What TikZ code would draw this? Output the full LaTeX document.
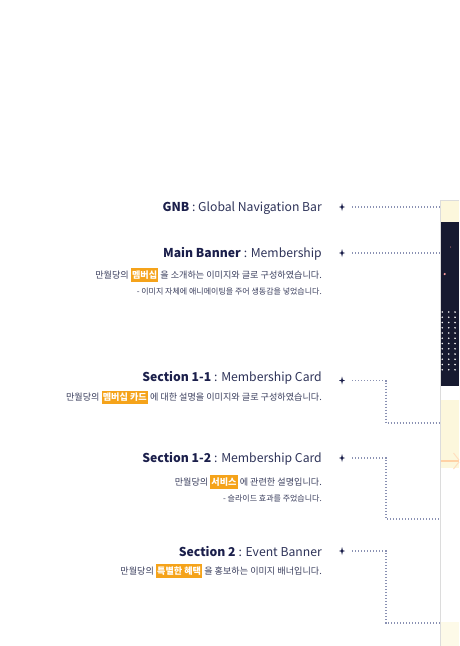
\documentclass[tikz,border=0pt]{standalone}
\usepackage{fontspec}
\setmainfont{Noto Sans CJK KR}
\definecolor{navy}{HTML}{1B1F4B}
\definecolor{navytxt}{HTML}{2E3359}
\definecolor{desc}{HTML}{3B3F5E}
\definecolor{hl}{HTML}{F5A31A}
\definecolor{dotc}{HTML}{8A91B3}
\definecolor{cream}{HTML}{FCF7DC}
\definecolor{creamlt}{HTML}{FDFAE8}
\definecolor{band}{HTML}{171A30}
\definecolor{edge}{HTML}{DCDCDC}
\newcommand\hlbox[1]{{\setlength{\fboxsep}{0pt}\colorbox{hl}{\rule[-3.5pt]{0pt}{13.5pt}\hspace{1.2pt}\textcolor{white}{\bfseries #1}\hspace{1.2pt}}}}
\tikzset{
  title/.style={anchor=base east, inner sep=0pt, text=navytxt, font=\fontsize{12.2}{14}\selectfont},
  descA/.style={anchor=base east, inner sep=0pt, text=desc, font=\fontsize{9.1}{11}\selectfont},
  descB/.style={anchor=base east, inner sep=0pt, text=desc, font=\fontsize{8}{10}\selectfont},
  conn/.style={draw=dotc, line width=1.1pt, dash pattern=on 1.1pt off 1.9pt},
  spark/.style={fill=navy, draw=none},
}
\newcommand\spk[1]{\fill[spark] (#1) ++(0,-4) -- ++(0.8,3.2) -- ++(2.2,0.8) -- ++(-2.2,0.8) -- ++(-0.8,3.2) -- ++(-0.8,-3.2) -- ++(-2.2,-0.8) -- ++(2.2,-0.8) -- cycle;}
\begin{document}
\begin{tikzpicture}[x=1pt,y=-1pt]
\useasboundingbox (0,0) rectangle (459,646);
\fill[white] (0,0) rectangle (459,646);
% right panel
\fill[cream] (440,200) rectangle (459,222);
\fill[band] (440,222) rectangle (459,386);
\fill[cream] (440,400) rectangle (459,468);
\fill[creamlt] (440,622) rectangle (459,646);
\draw[orange!35, line width=1.5pt] (441,461) -- (459,461);
\draw[orange!25, line width=1pt] (453.5,453) -- (459,460) (453.5,469) -- (459,462);
\foreach \r in {0,...,11} \foreach \c in {0,1,2}
  \fill[white!90!gray] ({442.3+6.4*\c},{312+5.25*\r}) circle (0.9);
\fill[pink!80!red] (450.7,247) circle (0.5);
\fill[pink!70!red!80!white] (444.7,274) circle (1.2);
\draw[edge, line width=0.8pt] (440,200) -- (440,646);
\draw[edge, line width=0.5pt] (440,200) -- (459,200);
% texts
\node[title] (gnb) at (322,211) {\textbf{\color{navy}GNB} : Global Navigation Bar};
\node[title] (mb) at (322,257.5) {\textbf{\color{navy}Main Banner}\hspace{3pt}: Membership};
\node[descA] (mb1) at (322,278) {만월당의 \hlbox{멤버십} 을 소개하는 이미지와 글로 구성하였습니다.};
\node[descB] (mb2) at (322,294) {- 이미지 자체에 애니메이팅을 주어 생동감을 넣었습니다.};
\node[title] (s11) at (322,381.5) {\textbf{\color{navy}Section 1-1}\hspace{3pt}: Membership Card};
\node[descA] (s111) at (322,400.5) {만월당의 \hlbox{멤버십 카드} 에 대한 설명을 이미지와 글로 구성하였습니다.};
\node[title] (s12) at (322,462) {\textbf{\color{navy}Section 1-2}\hspace{3pt}: Membership Card};
\node[descA] (s121) at (322,485) {만월당의 \hlbox{서비스} 에 관련한 설명입니다.};
\node[descB] (s122) at (322,501) {- 슬라이드 효과를 주었습니다.};
\node[title] (s2) at (322,556) {\textbf{\color{navy}Section 2}\hspace{3pt}: Event Banner};
\node[descA] (s21) at (322,574) {만월당의 \hlbox{특별한 혜택} 을 홍보하는 이미지 배너입니다.};
% markers
\coordinate (k1) at (342,207); \coordinate (k2) at (342,253);
\coordinate (k3) at (342,380.5); \coordinate (k4) at (342,458); \coordinate (k5) at (342,551);
\spk{k1}\spk{k2}\spk{k3}\spk{k4}\spk{k5}
\coordinate (e1) at (440,207); \coordinate (e2) at (440,253);
\coordinate (e3) at (440,423); \coordinate (e4) at (440,519); \coordinate (e5) at (440,623);
\draw[conn] ([xshift=10pt]k1) -- (e1);
\draw[conn] ([xshift=10pt]k2) -- (e2);
\draw[conn] ([xshift=10pt]k3) -| (386,423) -- (e3);
\draw[conn] ([xshift=10pt]k4) -| (386,519) -- (e4);
\draw[conn] ([xshift=10pt]k5) -| (386,623) -- (e5);
\end{tikzpicture}
\end{document}
